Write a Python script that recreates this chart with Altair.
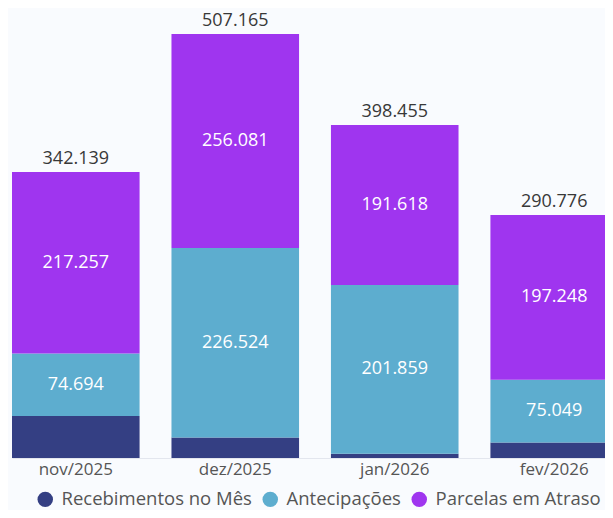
import altair as alt
import pandas as pd

months = ["nov/2025", "dez/2025", "jan/2026", "fev/2026"]
series = ["Recebimentos no Mês", "Antecipações", "Parcelas em Atraso"]
recebimentos = [50188, 24560, 4978, 18479]
antecipacoes = [74694, 226524, 201859, 75049]
parcelas = [217257, 256081, 191618, 197248]
totals = [342139, 507165, 398455, 290776]
colors = ["#343f83", "#5dadcf", "#9f35ef"]

rows = []
for i, m in enumerate(months):
    for k, (s, vals) in enumerate(zip(series, [recebimentos, antecipacoes, parcelas])):
        rows.append({"month": m, "series": s, "value": vals[i], "order": k, "show": k > 0})
df = pd.DataFrame(rows)
tot = pd.DataFrame({"month": months, "total": totals})

FONT = "Open Sans"

x = alt.X("month:N", sort=months, title=None,
          scale=alt.Scale(range=[0, 606], paddingInner=0.2, paddingOuter=0),
          axis=alt.Axis(labelAngle=0, ticks=False, labelFontSize=17, labelColor="#555555",
                        labelFont=FONT, labelPadding=3, domainColor="#e3e6ee", labelFlush=False))
yscale = alt.Scale(domain=[0, 538300], nice=False, zero=True)

base = alt.Chart(df).transform_stack(
    stack="value", groupby=["month"], sort=[alt.SortField("order")], as_=["v0", "v1"]
).transform_calculate(
    mid="(datum.v0 + datum.v1) / 2",
    lab="replace(format(datum.value, ','), ',', '.')",
)

bars = base.mark_bar(clip=True).encode(
    x=x,
    y=alt.Y("v0:Q", scale=yscale, axis=None),
    y2="v1:Q",
    color=alt.Color("series:N", scale=alt.Scale(domain=series, range=colors),
                    legend=alt.Legend(title=None, orient="none", direction="horizontal",
                                      legendX=24, legendY=482, symbolType="circle", symbolSize=240,
                                      labelFontSize=18.5, labelColor="#555555", labelFont=FONT,
                                      labelOffset=7, columnPadding=9, symbolStrokeWidth=0,
                                      labelLimit=0)),
)

seg_labels = base.transform_filter("datum.show").mark_text(
    color="white", fontSize=18, font=FONT, baseline="middle", clip=True
).encode(
    x=x,
    y=alt.Y("mid:Q", scale=yscale, axis=None),
    text="lab:N",
)

tot_labels = alt.Chart(tot).transform_calculate(
    lab="replace(format(datum.total, ','), ',', '.')"
).mark_text(color="#383838", fontSize=18, font=FONT, baseline="alphabetic", dy=-8).encode(
    x=x,
    y=alt.Y("total:Q", scale=yscale, axis=None),
    text="lab:N",
)

chart = alt.layer(bars, seg_labels, tot_labels).properties(
    width=593, height=450,
    autosize=alt.AutoSizeParams(type="none"),
    padding={"left": 4, "top": 0, "right": 0, "bottom": 52},
    background="#f9fbfe",
).configure_view(stroke=None)

chart.save("out.html", embed_options={"renderer": "svg", "actions": False})
